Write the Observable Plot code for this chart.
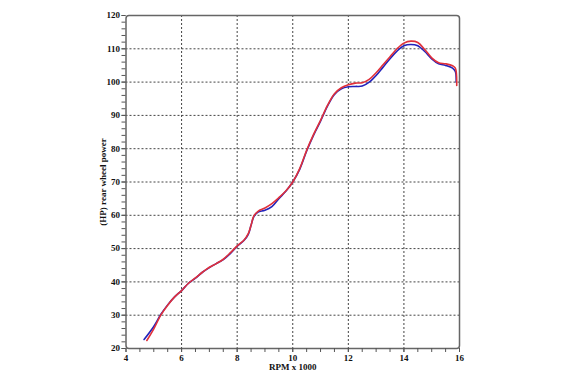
<!DOCTYPE html>
<html>
<head>
<meta charset="utf-8">
<script src="https://cdn.jsdelivr.net/npm/d3@7"></script>
<script src="https://cdn.jsdelivr.net/npm/@observablehq/plot@0.6"></script>
<style>
  html, body { margin: 0; padding: 0; background: #fff; }
  svg { display: block; }
</style>
</head>
<body>
<div id="chart"></div>
<script>
const redRpm = [4.75,5.0,5.25,5.5,5.75,6.0,6.25,6.5,6.75,7.0,7.25,7.5,7.75,8.0,8.25,8.4,8.5,8.6,8.75,9.0,9.25,9.5,9.75,10.0,10.25,10.5,10.75,11.0,11.25,11.5,11.75,12.0,12.25,12.5,12.75,13.0,13.25,13.5,13.75,14.0,14.25,14.5,14.75,15.0,15.25,15.5,15.75,15.85,15.9];
const redHp  = [22.4,25.9,30.0,33.0,35.5,37.4,39.6,41.2,42.9,44.4,45.5,46.8,48.7,50.8,52.6,54.5,57.0,59.8,61.2,62.2,63.5,65.3,67.3,70.0,74.0,79.5,84.3,88.5,93.0,96.5,98.3,99.2,99.7,99.8,100.8,102.8,105.2,107.6,110.0,111.7,112.3,111.9,109.8,107.3,105.8,105.5,104.9,104.2,99.0];
const blueRpm = [4.65,5.0,5.25,5.5,5.75,6.0,6.25,6.5,6.75,7.0,7.25,7.5,7.75,8.0,8.25,8.4,8.5,8.6,8.75,9.0,9.25,9.5,9.75,10.0,10.25,10.5,10.75,11.0,11.25,11.5,11.75,12.0,12.25,12.5,12.75,13.0,13.25,13.5,13.75,14.0,14.25,14.5,14.75,15.0,15.25,15.5,15.75,15.85,15.88];
const blueHp  = [22.7,26.6,30.2,33.1,35.5,37.4,39.6,41.1,42.9,44.3,45.5,46.7,48.5,50.7,52.5,54.3,57.0,59.6,61.0,61.5,62.6,65.0,67.2,70.0,73.8,79.3,84.1,88.3,92.8,96.3,98.0,98.6,98.7,98.8,100.0,102.0,104.5,107.0,109.3,110.9,111.3,110.9,109.2,107.0,105.5,105.0,104.2,103.2,100.0];
const xMajor = [4,6,8,10,12,14,16];
const yMajor = [20,30,40,50,60,70,80,90,100,110,120];

const red = redRpm.map((x, i) => ({x, y: redHp[i]}));
const blue = blueRpm.map((x, i) => ({x, y: blueHp[i]}));

const font = "'Liberation Serif', serif";
const chart = Plot.plot({
  width: 565,
  height: 375,
  marginLeft: 125.5,
  marginRight: 106,
  marginTop: 15,
  marginBottom: 27,
  style: {fontFamily: font, fontSize: "9px", fontWeight: "bold", background: "#fff", color: "#111"},
  x: {domain: [4, 16]},
  y: {domain: [20, 120]},
  marks: [
    Plot.gridX(xMajor.slice(1, -1), {stroke: "#444", strokeOpacity: 1, strokeDasharray: "2,2", strokeWidth: 1}),
    Plot.gridY(yMajor.slice(1, -1), {stroke: "#444", strokeOpacity: 1, strokeDasharray: "2,2", strokeWidth: 1}),
    Plot.frame({stroke: "#666", strokeWidth: 1.5, rx: 3}),
    Plot.axisX(d3.range(4, 16.01, 0.5), {tickSize: 4, text: null, stroke: "#555", label: null}),
    Plot.axisX(xMajor, {tickSize: 4, tickPadding: 2, stroke: "#555", label: "RPM x 1000", labelAnchor: "center", labelArrow: "none", labelOffset: 21}),
    Plot.axisY(d3.range(20, 120.01, 2), {tickSize: 4, text: null, stroke: "#555", label: null}),
    Plot.axisY(yMajor, {tickSize: 4, tickPadding: 2, stroke: "#555", label: "(HP) rear wheel power", labelAnchor: "center", labelArrow: "none", labelOffset: 26}),
    Plot.line(blue, {x: "x", y: "y", stroke: "#2222bb", strokeWidth: 1.6, curve: "catmull-rom"}),
    Plot.line(red, {x: "x", y: "y", stroke: "#e0303a", strokeWidth: 1.6, curve: "catmull-rom"})
  ]
});
document.getElementById("chart").appendChild(chart);
</script>
</body>
</html>
